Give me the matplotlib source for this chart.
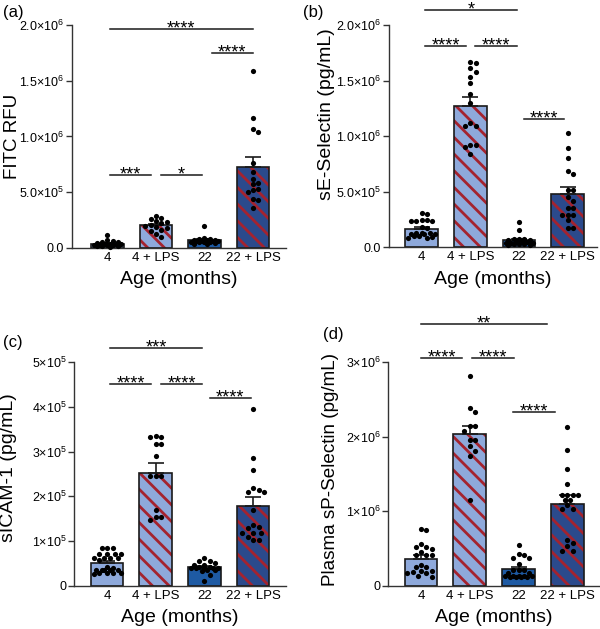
import numpy as np
import matplotlib
matplotlib.use("Agg")
import matplotlib.pyplot as plt

plt.rcParams["font.family"] = ["Liberation Sans", "DejaVu Sans"]
plt.rcParams["mathtext.fontset"] = "custom"
plt.rcParams["mathtext.rm"] = "Liberation Sans"
plt.rcParams["mathtext.it"] = "Liberation Sans:italic"
plt.rcParams["mathtext.bf"] = "Liberation Sans:bold"
plt.rcParams["mathtext.default"] = "regular"
plt.rcParams["hatch.linewidth"] = 2.0

groups = ["4", "4 + LPS", "22", "22 + LPS"]

# (a) FITC RFU, values x1e6
fitc_4 = [0.12, 0.07, 0.06, 0.055, 0.05, 0.045, 0.04, 0.04, 0.035, 0.035,
          0.03, 0.03, 0.025, 0.025, 0.02, 0.02, 0.015, 0.01]
fitc_4lps = [0.29, 0.27, 0.26, 0.24, 0.23, 0.22, 0.21, 0.20, 0.19, 0.18,
             0.16, 0.15, 0.13, 0.10]
fitc_22 = [0.20, 0.09, 0.085, 0.08, 0.075, 0.07, 0.07, 0.065, 0.065, 0.06,
           0.06, 0.055, 0.055, 0.05, 0.05, 0.045, 0.04, 0.04]
fitc_22lps = [1.59, 1.17, 1.07, 1.04, 0.76, 0.68, 0.62, 0.58, 0.57, 0.53,
              0.52, 0.50, 0.44, 0.43, 0.36]

# (b) sE-Selectin, x1e6
sel_e_4 = [0.31, 0.295, 0.24, 0.24, 0.235, 0.235, 0.23, 0.18, 0.17, 0.13,
           0.13, 0.125, 0.12, 0.12, 0.115, 0.10, 0.095, 0.09, 0.085, 0.08]
sel_e_4lps = [1.67, 1.655, 1.615, 1.58, 1.53, 1.48, 1.38, 1.30, 1.12, 1.09,
              1.09, 0.92, 0.92, 0.90, 0.84]
sel_e_22 = [0.228, 0.153, 0.075, 0.07, 0.07, 0.065, 0.06, 0.055, 0.05, 0.045,
            0.04, 0.04, 0.035, 0.03, 0.03, 0.025, 0.02, 0.02]
sel_e_22lps = [1.03, 0.89, 0.80, 0.685, 0.655, 0.51, 0.51, 0.45, 0.41, 0.35,
               0.35, 0.29, 0.29, 0.29, 0.24, 0.17, 0.17]

# (c) sICAM-1, x1e5
icam_4 = [0.855, 0.84, 0.84, 0.72, 0.72, 0.72, 0.71, 0.62, 0.62, 0.62, 0.62,
          0.58, 0.42, 0.40, 0.36, 0.36, 0.36, 0.36, 0.36, 0.30, 0.29, 0.29,
          0.28, 0.27]
icam_4lps = [3.35, 3.33, 3.33, 3.16, 3.16, 2.90, 2.46, 2.46, 2.45, 1.70,
             1.55, 1.55, 1.47]
icam_22 = [0.63, 0.56, 0.56, 0.51, 0.47, 0.47, 0.42, 0.42, 0.41, 0.41, 0.41,
           0.40, 0.40, 0.36, 0.36, 0.34, 0.25, 0.11]
icam_22lps = [3.94, 2.85, 2.60, 2.19, 2.15, 2.10, 2.10, 1.70, 1.36, 1.31,
              1.29, 1.19, 1.19, 1.19, 1.10, 1.03, 1.03]

# (d) Plasma sP-Selectin, x1e6
sel_p_4 = [0.76, 0.75, 0.56, 0.52, 0.52, 0.50, 0.45, 0.42, 0.42, 0.41,
           0.28, 0.26, 0.26, 0.20, 0.20, 0.19, 0.18, 0.18, 0.13, 0.12]
sel_p_4lps = [2.81, 2.39, 2.33, 2.14, 2.14, 2.08, 1.955, 1.955, 1.87, 1.81,
              1.745, 1.15]
sel_p_22 = [0.55, 0.43, 0.415, 0.37, 0.37, 0.30, 0.22, 0.21, 0.21, 0.18,
            0.18, 0.135, 0.135, 0.13, 0.13, 0.13, 0.12, 0.12, 0.12, 0.12]
sel_p_22lps = [2.13, 1.82, 1.57, 1.37, 1.22, 1.22, 1.22, 1.22, 1.15, 1.15,
               1.085, 1.03, 1.03, 0.62, 0.58, 0.53, 0.47, 0.47]

LIGHT = "#8EA9DB"
DARK = "#1E5AA3"
NAVY = "#2B4A8C"
STRIPE = "#A4232F"
face = [LIGHT, LIGHT, DARK, NAVY]
striped = [False, True, False, True]

W, H = 600, 629


def sci_label(v, dec):
    if v == 0:
        return "0.0" if dec else "0"
    e = int(np.floor(np.log10(v) + 1e-9))
    m = v / 10 ** e
    return f"{m:.{dec}f}×10$^{{{e}}}$"


def swarm(ax, values, dot_px=5.4, max_dx=0.30):
    # simple beeswarm limited to the bar width; overlap allowed when crowded
    tr = ax.transData
    px_per_x = tr.transform((1, 0))[0] - tr.transform((0, 0))[0]
    ys = tr.transform(np.column_stack([np.zeros(len(values)), values]))[:, 1]
    lim = max_dx * px_per_x
    steps = [0.0]
    k = 1
    while k * dot_px * 0.5 <= lim:
        steps += [k * dot_px * 0.5, -k * dot_px * 0.5]
        k += 1
    placed = []
    off = np.zeros(len(values))
    for i in np.argsort(values)[::-1]:
        y = ys[i]
        best, best_d = 0.0, -1.0
        for c in steps:
            d = min([np.hypot(c - px, y - py) for px, py in placed] or [99.0])
            if d >= dot_px:
                best = c
                break
            if d > best_d:
                best, best_d = c, d
        placed.append((best, y))
        off[i] = best / px_per_x
    return off


panels = [
    dict(letter="(a)", data=[fitc_4, fitc_4lps, fitc_22, fitc_22lps], scale=1e6,
         box=(72, 286, 25, 248), xlim=(-0.73, 3.68), ylim=2.0e6, step=0.5e6, dec=1,
         ylabel="FITC RFU", lsize=13.5, lpos=((12 - 72) / 214, 0.5), letter_xy=(3, 13),
         sig=[(0.05, 3.0, 1.96e6, "****"), (2.15, 3.0, 1.75e6, "****"),
              (0.05, 0.90, 0.655e6, "***"), (1.10, 1.95, 0.655e6, "*")]),
    dict(letter="(b)", data=[sel_e_4, sel_e_4lps, sel_e_22, sel_e_22lps], scale=1e6,
         box=(389, 597, 25, 247), xlim=(-0.67, 3.60), ylim=2.0e6, step=0.5e6, dec=1,
         ylabel="sE-Selectin (pg/mL)", lsize=14, lpos=(-0.30, 0.60), letter_xy=(303, 12),
         sig=[(0.07, 1.96, 2.135e6, "*"), (0.07, 0.92, 1.81e6, "****"),
              (1.10, 1.96, 1.81e6, "****"), (2.10, 2.93, 1.15e6, "****")]),
    dict(letter="(c)", data=[icam_4, icam_4lps, icam_22, icam_22lps], scale=1e5,
         box=(74, 286, 362, 586), xlim=(-0.68, 3.675), ylim=5e5, step=1e5, dec=0,
         ylabel="sICAM-1 (pg/mL)", lsize=14, lpos=(-0.31, 0.527), letter_xy=(3, 343),
         sig=[(0.06, 1.95, 5.31e5, "***"), (0.06, 0.91, 4.5e5, "****"),
              (1.11, 1.95, 4.5e5, "****"), (2.11, 2.95, 4.2e5, "****")]),
    dict(letter="(d)", data=[sel_p_4, sel_p_4lps, sel_p_22, sel_p_22lps], scale=1e6,
         box=(388, 599, 362, 586), xlim=(-0.676, 3.65), ylim=3e6, step=1e6, dec=0,
         ylabel="Plasma sP-Selectin (pg/mL)", lsize=13.6, lpos=(-0.273, 0.518),
         letter_xy=(323, 335),
         sig=[(0.0, 2.58, 3.51e6, "**"), (0.0, 0.84, 3.05e6, "****"),
              (1.05, 1.90, 3.05e6, "****"), (1.89, 2.74, 2.33e6, "****")]),
]

fig = plt.figure(figsize=(W / 100, H / 100), dpi=100)

for p in panels:
    x0, x1, ytop, ybot = p["box"]
    ax = fig.add_axes([x0 / W, 1 - ybot / H, (x1 - x0) / W, (ybot - ytop) / H])
    ax.set_xlim(*p["xlim"])
    ax.set_ylim(0, p["ylim"])

    vals = [np.asarray(d) * p["scale"] for d in p["data"]]
    means = [v.mean() for v in vals]
    sems = [v.std(ddof=1) / np.sqrt(len(v)) for v in vals]
    xs = np.arange(len(groups))

    for i in xs:
        if striped[i]:
            ax.bar(i, means[i], width=0.67, color=face[i], edgecolor=STRIPE,
                   hatch="\\\\", linewidth=0, zorder=2)
        else:
            ax.bar(i, means[i], width=0.67, color=face[i], linewidth=0, zorder=2)
        ax.bar(i, means[i], width=0.67, fill=False, edgecolor="#1a1a1a",
               linewidth=1.2, zorder=2.5)

    ax.errorbar(xs, means, yerr=[np.zeros(4), sems], fmt="none", ecolor="#1a1a1a",
                elinewidth=1.2, capsize=6, capthick=1.2, zorder=3)

    for i in xs:
        off = swarm(ax, vals[i])
        ax.scatter(i + off, vals[i], s=14, color="black", linewidths=0, zorder=4,
                   clip_on=False)

    for a, b, y, lab in p["sig"]:
        ax.plot([a, b], [y, y], color="#1a1a1a", lw=1.1, clip_on=False, zorder=5)
        ax.annotate(lab, xy=((a + b) / 2, y), xytext=(0, -3), textcoords="offset points",
                    ha="center", va="baseline", fontsize=13, annotation_clip=False)

    ticks = np.arange(0, p["ylim"] + p["step"] / 2, p["step"])
    ax.set_yticks(ticks)
    ax.set_yticklabels([sci_label(t, p["dec"]) for t in ticks])
    ax.set_xticks(xs)
    ax.set_xticklabels(groups)
    ax.tick_params(axis="x", length=0, pad=3, labelsize=9.5)
    ax.tick_params(axis="y", length=4, width=1.0, pad=1.5, labelsize=9, color="#333333")
    for s in ("top", "right"):
        ax.spines[s].set_visible(False)
    for s in ("left", "bottom"):
        ax.spines[s].set_linewidth(1.0)
        ax.spines[s].set_color("#333333")

    ax.text(p["lpos"][0], p["lpos"][1], p["ylabel"], transform=ax.transAxes,
            rotation=90, ha="center", va="center", fontsize=p["lsize"])
    ax.text(0.5, -32 / (ybot - ytop), "Age (months)", transform=ax.transAxes,
            ha="center", va="center", fontsize=14)
    fig.text(p["letter_xy"][0] / W, 1 - p["letter_xy"][1] / H, p["letter"],
             ha="left", va="center", fontsize=12)

fig.savefig("out.png", dpi=100)
